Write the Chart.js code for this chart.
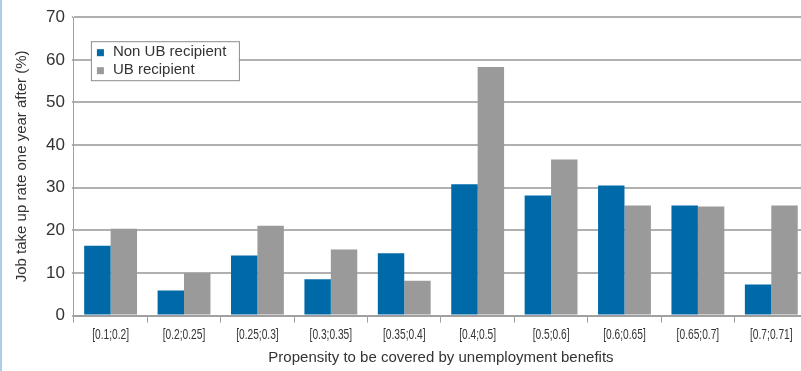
<!DOCTYPE html>
<html>
<head>
<meta charset="utf-8">
<script src="https://cdn.jsdelivr.net/npm/chart.js@4.4.1/dist/chart.umd.min.js"></script>
<style>
    html, body { margin: 0; padding: 0; background: #fff; overflow: hidden; }
    body { width: 801px; height: 371px; position: relative; }
    #wrap { position: absolute; left: 0; top: 0; width: 812px; height: 371px; }
    #edge { position: absolute; left: 0; top: 0; width: 2px; height: 371px; background: #a9d0e8; z-index: 2; }
</style>
</head>
<body>
<div id="edge"></div>
<div id="wrap"><canvas id="jobChart" width="812" height="371"></canvas></div>
<script>
    // Categorias (propensão) e valores
    const categories = ['[0.1;0.2]', '[0.2;0.25]', '[0.25;0.3]', '[0.3;0.35]', '[0.35;0.4]',
        '[0.4;0.5]', '[0.5;0.6]', '[0.6;0.65]', '[0.65;0.7]', '[0.7;0.71]'];
    const nonUbRecipient = [16.4, 5.9, 14.1, 8.5, 14.6, 30.8, 28.2, 30.5, 25.8, 7.3];
    const ubRecipient = [20.4, 10.0, 21.1, 15.5, 8.2, 58.3, 36.6, 25.8, 25.6, 25.8];
    const yTicks = [0, 10, 20, 30, 40, 50, 60, 70];

    const BLUE = '#006aa9';
    const GREY = '#9a9a9a';
    const TEXT = '#333333';
    const SANS = '"Liberation Sans", Arial, sans-serif';

    // Legenda dentro da área do gráfico
    const insideLegend = {
        id: 'insideLegend',
        afterDraw(chart) {
            const ctx = chart.ctx;
            const area = chart.chartArea;
            const x = area.left + 17;
            const y = area.top + 24;
            ctx.save();
            ctx.fillStyle = '#fff';
            ctx.fillRect(x, y, 148, 39);
            ctx.strokeStyle = '#8c8c8c';
            ctx.lineWidth = 1;
            ctx.strokeRect(x + 0.5, y + 0.5, 148, 39);
            ctx.font = '15px ' + SANS;
            ctx.textBaseline = 'middle';
            chart.data.datasets.forEach((ds, i) => {
                const cy = y + 11 + i * 18;
                ctx.fillStyle = ds.backgroundColor;
                ctx.fillRect(x + 6, cy - 3, 7, 7);
                ctx.fillStyle = TEXT;
                ctx.fillText(ds.label, x + 22, cy);
            });
            ctx.restore();
        }
    };

    // Rótulos do eixo x em fonte estreita (comprimida na horizontal)
    const narrowLabels = {
        id: 'narrowLabels',
        afterDraw(chart) {
            const ctx = chart.ctx;
            const xScale = chart.scales.x;
            ctx.save();
            ctx.font = '15px ' + SANS;
            ctx.fillStyle = TEXT;
            ctx.textAlign = 'center';
            ctx.textBaseline = 'middle';
            chart.data.labels.forEach((lab, i) => {
                const px = xScale.getPixelForTick(i);
                ctx.save();
                ctx.translate(px, xScale.top + 19);
                ctx.scale(0.68, 1);
                ctx.fillText(lab, 0, 0);
                ctx.restore();
            });
            ctx.restore();
        }
    };

    window.onload = function () {
        const ctx = document.getElementById('jobChart').getContext('2d');
        new Chart(ctx, {
            type: 'bar',
            data: {
                labels: categories,
                datasets: [
                    { label: 'Non UB recipient', data: nonUbRecipient, backgroundColor: BLUE },
                    { label: 'UB recipient', data: ubRecipient, backgroundColor: GREY }
                ]
            },
            options: {
                responsive: false,
                animation: false,
                layout: { padding: { left: 9, top: 11, right: 4, bottom: 0 } },
                datasets: {
                    bar: { categoryPercentage: 0.72, barPercentage: 1.0 }
                },
                plugins: {
                    legend: { display: false },
                    tooltip: { enabled: false }
                },
                scales: {
                    x: {
                        grid: {
                            offset: true,
                            drawOnChartArea: false,
                            drawTicks: true,
                            tickLength: 7,
                            color: '#a0a0a0'
                        },
                        border: { color: '#a0a0a0', width: 2 },
                        ticks: {
                            color: 'rgba(0,0,0,0)',
                            font: { family: SANS, size: 12 },
                            maxRotation: 0,
                            autoSkip: false,
                            padding: 2
                        },
                        title: {
                            display: true,
                            text: 'Propensity to be covered by unemployment benefits',
                            color: TEXT,
                            font: { family: SANS, size: 15 },
                            padding: { top: 8 }
                        }
                    },
                    y: {
                        min: 0,
                        max: 70,
                        afterBuildTicks(axis) {
                            axis.ticks = yTicks.map(v => ({ value: v }));
                        },
                        grid: {
                            color: '#b0b0b0',
                            lineWidth: 2,
                            tickLength: 2
                        },
                        border: { color: '#a0a0a0', width: 1 },
                        ticks: {
                            color: TEXT,
                            font: { family: SANS, size: 17 },
                            padding: 7
                        },
                        title: {
                            display: true,
                            text: 'Job take up rate one year after (%)',
                            color: TEXT,
                            font: { family: SANS, size: 15 },
                            padding: { bottom: 8 }
                        }
                    }
                }
            },
            plugins: [insideLegend, narrowLabels]
        });
    };
</script>
</body>
</html>
